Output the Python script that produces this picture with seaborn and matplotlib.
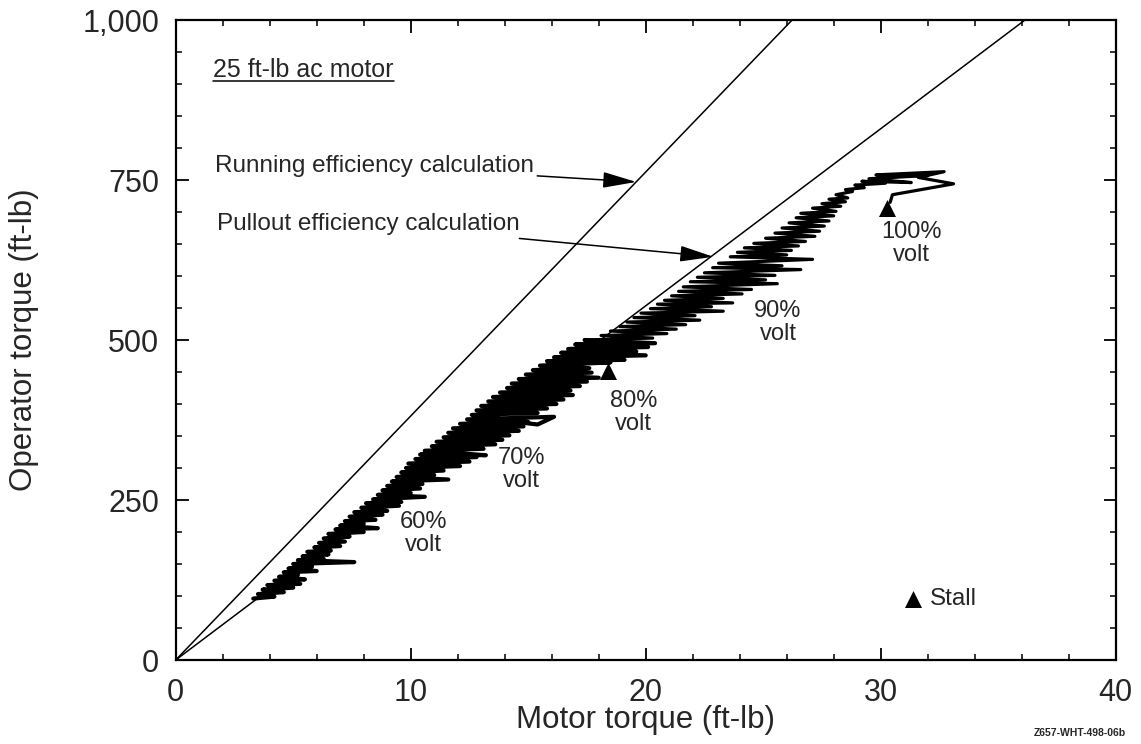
import matplotlib
matplotlib.use("Agg")
import matplotlib.pyplot as plt
import seaborn as sns
from matplotlib.ticker import MultipleLocator, FixedLocator, FixedFormatter
from matplotlib.lines import Line2D

# ---------------- data ----------------
# efficiency reference lines (motor torque, operator torque)
running_motor = [0.0, 26.23]
running_operator = [0.0, 1000.0]
pullout_motor = [0.0, 36.14]
pullout_operator = [0.0, 1000.0]

# measured trace, 60% voltage region
trace_motor_a = [3.3, 4.2, 3.5, 4.6, 3.7, 5.0, 3.9, 5.3, 4.2, 5.5,
                 4.4, 5.2, 4.6, 6.0, 4.8, 5.8, 5.0, 7.6, 5.2, 6.3,
                 5.4, 6.5, 5.6, 6.6, 5.9, 7.0, 6.1, 7.2, 6.3, 7.4,
                 6.5, 8.0, 6.8, 8.6, 7.0, 8.0, 7.2, 8.5, 7.4, 8.8,
                 7.6, 9.0, 7.9, 9.5, 8.1, 9.6, 8.4, 10.6, 8.6, 10.0,
                 8.8, 10.4, 9.0, 10.5, 9.2, 11.6, 9.4, 11.0, 9.6, 11.4, 9.8]
trace_operator_a = [96, 99, 103, 106, 110, 113, 117, 119, 124, 126,
                    130, 133, 137, 139, 143, 146, 150, 153, 156, 158,
                    162, 165, 169, 171, 176, 178, 183, 185, 190, 193,
                    197, 200, 204, 206, 210, 213, 217, 219, 224, 227,
                    231, 233, 238, 241, 245, 247, 251, 255, 258, 261,
                    265, 268, 272, 275, 279, 282, 286, 289, 293, 296, 300]

# 70% / 80% voltage region
trace_motor_b = [12.1, 9.9, 12.5, 10.2, 12.8, 10.4, 13.2, 10.6, 13.1, 10.9,
                 13.6, 11.1, 13.9, 11.4, 14.2, 11.6, 14.6, 11.8, 14.8, 12.1,
                 15.0, 12.4, 16.1, 15.4, 14.7, 12.6, 15.4, 12.8, 15.8, 13.0,
                 16.2, 13.3, 16.5, 13.5, 16.9, 13.8, 16.8, 14.1, 17.2, 14.3,
                 17.5, 14.6, 18.0, 14.9, 17.7, 15.2, 17.6, 15.5, 18.5, 15.8,
                 19.1, 16.1, 20.0, 16.4, 19.6, 16.7, 20.1, 17.0, 20.4, 17.4]
trace_operator_b = [303, 307, 310, 314, 317, 321, 320, 327, 330, 334,
                    337, 341, 344, 348, 351, 355, 358, 362, 365, 369,
                    372, 376, 380, 368, 371, 383, 386, 390, 393, 397,
                    400, 404, 407, 411, 414, 418, 421, 425, 428, 432,
                    435, 439, 441, 446, 449, 453, 456, 460, 465, 467,
                    469, 473, 476, 480, 482, 486, 489, 493, 495, 500]

# 90% / 100% voltage region
trace_motor_c = [17.4, 20.3, 18.1, 20.9, 18.5, 21.3, 18.9, 21.7, 19.2, 22.3, 19.5,
                 22.1, 19.8, 23.3, 20.2, 22.8, 20.5, 23.7, 20.8, 23.3, 21.1,
                 24.1, 21.4, 24.5, 21.6, 25.6, 21.9, 25.1, 22.2, 25.5, 22.5,
                 26.6, 22.85, 25.8, 23.1, 27.1, 23.6, 26.0, 23.9, 26.2, 24.2,
                 26.5, 24.6, 26.8, 25.1, 27.2, 25.5, 27.4, 25.8, 27.6, 26.1,
                 27.8, 26.4, 28.0, 26.6, 28.1, 27.1, 28.3, 27.5, 28.5, 27.8,
                 28.6, 28.1, 28.8, 28.5, 29.3, 28.9, 30.2, 29.2, 31.3, 29.5,
                 32.0, 29.8, 32.7, 31.6, 33.1, 30.5, 30.4]
trace_operator_c = [500, 503, 507, 510, 514, 517, 521, 524, 528, 531, 535,
                    538, 542, 545, 549, 552, 556, 558, 562, 565, 569,
                    572, 576, 579, 583, 588, 591, 594, 598, 601, 605,
                    610, 613, 616, 620, 626, 630, 633, 637, 640, 644,
                    647, 651, 654, 659, 662, 667, 670, 675, 678, 683,
                    686, 691, 694, 698, 701, 706, 709, 713, 716, 720,
                    722, 727, 732, 735, 738, 742, 745, 748, 746, 752,
                    757, 758, 763, 754, 744, 727, 715]

# stall points
stall_motor = [18.4, 30.25]
stall_operator = [452, 706]
stall_key_motor = [31.39]
stall_key_operator = [95]

x_ticks = [0, 10, 20, 30, 40]
x_tick_labels = ["0", "10", "20", "30", "40"]
y_ticks = [0, 250, 500, 750, 1000]
y_tick_labels = ["0", "250", "500", "750", "1,000"]

volt_labels = ["60%\nvolt", "70%\nvolt", "80%\nvolt", "90%\nvolt", "100%\nvolt"]
volt_label_motor = [10.54, 14.73, 19.47, 25.63, 31.32]
volt_label_operator = [198, 298, 387, 528, 651]

# ---------------- plotting ----------------
sns.set_theme(style="ticks")
plt.rcParams['font.family'] = ['Liberation Sans', 'DejaVu Sans']
plt.rcParams['axes.linewidth'] = 1.6

W, H = 1141, 744
fig = plt.figure(figsize=(W / 100, H / 100), dpi=100, facecolor="white")
ax = fig.add_axes([175.7 / W, 84 / H, 940 / W, 640 / H])
ax.set_facecolor("white")

sns.lineplot(x=running_motor, y=running_operator, ax=ax, color="black", lw=1.1)
sns.lineplot(x=pullout_motor, y=pullout_operator, ax=ax, color="black", lw=1.1)

sns.lineplot(x=trace_motor_a + trace_motor_b, y=trace_operator_a + trace_operator_b,
             ax=ax, sort=False, estimator=None, color="black", lw=3.0)
sns.lineplot(x=trace_motor_c, y=trace_operator_c, ax=ax, sort=False, estimator=None,
             color="black", lw=2.3)

sns.scatterplot(x=stall_motor, y=stall_operator, ax=ax, marker="^", s=150,
                color="black", edgecolor="black", linewidth=0, zorder=5)
sns.scatterplot(x=stall_key_motor, y=stall_key_operator, ax=ax, marker="^", s=150,
                color="black", edgecolor="black", linewidth=0, zorder=5)

ax.set_xlim(0, 40)
ax.set_ylim(0, 1000)
ax.xaxis.set_major_locator(FixedLocator(x_ticks))
ax.xaxis.set_major_formatter(FixedFormatter(x_tick_labels))
ax.yaxis.set_major_locator(FixedLocator(y_ticks))
ax.yaxis.set_major_formatter(FixedFormatter(y_tick_labels))
ax.xaxis.set_minor_locator(MultipleLocator(2))
ax.yaxis.set_minor_locator(MultipleLocator(50))
ax.tick_params(which="both", direction="in", top=True, right=True, color="black")
ax.tick_params(which="major", length=9, width=1.3, labelsize=22)
ax.tick_params(axis="x", which="major", pad=13)
ax.tick_params(axis="y", which="major", pad=12)
ax.tick_params(which="minor", length=4.5, width=1.1)
for s in ax.spines.values():
    s.set_visible(True)
    s.set_color("black")
    s.set_linewidth(1.6)

ax.set_xlabel("Motor torque (ft-lb)", fontsize=22.5)
ax.xaxis.set_label_coords(0.5, -0.071)
ax.set_ylabel("Operator torque (ft-lb)", fontsize=22.5)
ax.yaxis.set_label_coords(-0.145, 0.5)

# annotations
title_txt = ax.text(1.59, 922, "25 ft-lb ac motor", fontsize=18, ha="left", va="center")
arrow_style = dict(arrowstyle="-|>,head_length=1.6,head_width=0.38",
                   mutation_scale=13, lw=1.1, color="black", shrinkA=0, shrinkB=0)
ax.annotate("Running efficiency calculation", xy=(19.6, 747), xytext=(1.67, 772),
            fontsize=17.5, ha="left", va="center", arrowprops=arrow_style)
ax.annotate("Pullout efficiency calculation", xy=(22.88, 630), xytext=(1.76, 681),
            fontsize=17.5, ha="left", va="center", arrowprops=arrow_style)
for lab, xm, yo in zip(volt_labels, volt_label_motor, volt_label_operator):
    ax.text(xm, yo, lab, fontsize=17, ha="center", va="center", linespacing=1.05)
ax.text(32.1, 95, "Stall", fontsize=17.5, ha="left", va="center")

fig.text(1126 / W, 1 - 733 / H, "Z657-WHT-498-06b", fontsize=7.5, weight="bold",
         ha="right", va="center")

# underline for the motor caption
fig.canvas.draw()
bb = title_txt.get_window_extent()
uy = bb.y0 + 1
fig.add_artist(Line2D([bb.x0 / W, bb.x1 / W], [uy / H, uy / H],
                      transform=fig.transFigure, color="black", lw=1.1))

fig.savefig("out.png", dpi=100, facecolor="white")
